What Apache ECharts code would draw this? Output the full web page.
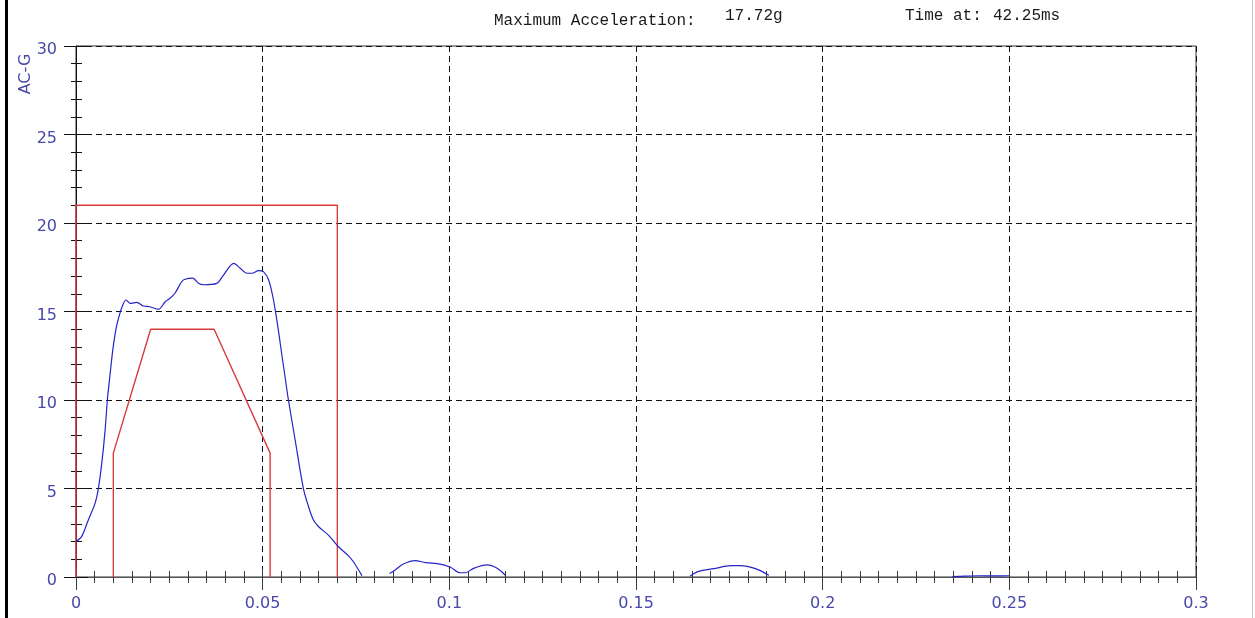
<!DOCTYPE html>
<html>
<head>
<meta charset="utf-8">
<script src="https://cdn.jsdelivr.net/npm/echarts/dist/echarts.min.js"></script>
<style>
  html, body { margin: 0; padding: 0; background: #fff; }
  #chart { width: 1255px; height: 618px; }
</style>
</head>
<body>
<div id="chart"></div>
<script>
// Axis ticks (time in seconds, acceleration in g)
const xTickValues = [0, 0.05, 0.1, 0.15, 0.2, 0.25, 0.3];
const xTickLabels = ['0', '0.05', '0.1', '0.15', '0.2', '0.25', '0.3'];
const yTickValues = [0, 5, 10, 15, 20, 25, 30];
const yTickLabels = ['0', '5', '10', '15', '20', '25', '30'];

// Tolerance envelope: upper limit box and lower limit trapezoid
const upperLimitTime  = [0, 0, 0.07, 0.07];
const upperLimitAccel = [0, 21, 21, 0];
const lowerLimitTime  = [0.01, 0.01, 0.02, 0.037, 0.052, 0.052];
const lowerLimitAccel = [0, 7, 14, 14, 7, 0];

// Measured shock pulse (null = below zero / not drawn)
const pulseTime = [
  0, 0.0015, 0.0033, 0.0051, 0.006, 0.0069, 0.0078, 0.0084, 0.0091, 0.0099,
  0.0108, 0.0117, 0.0125, 0.0134, 0.0145, 0.0163, 0.018, 0.0198, 0.0221, 0.0239,
  0.0252, 0.0265, 0.0283, 0.0292, 0.0313, 0.0328, 0.0341, 0.0377, 0.0395, 0.04225,
  0.044, 0.0458, 0.0471, 0.0489, 0.0502, 0.0516, 0.0529, 0.0542, 0.0551, 0.056,
  0.0569, 0.0587, 0.0609, 0.0623, 0.0636, 0.065, 0.0676, 0.0703, 0.073, 0.0743,
  0.0766,
  0.08,
  0.084, 0.0855, 0.0877, 0.0909, 0.0936, 0.0976, 0.1003, 0.1029, 0.1043, 0.1065,
  0.1101, 0.1128, 0.115,
  0.14,
  0.1645, 0.1668, 0.1708, 0.1754, 0.1779, 0.182, 0.1856,
  0.21,
  0.2348, 0.238, 0.242, 0.246, 0.25
];
const pulseAccel = [
  2.0, 2.28, 3.22, 4.16, 5.01, 6.42, 8.3, 10.0, 11.4, 12.9,
  14.1, 14.85, 15.35, 15.65, 15.46, 15.52, 15.31, 15.27, 15.12, 15.55,
  15.75, 16.03, 16.68, 16.82, 16.88, 16.59, 16.51, 16.59, 17.06, 17.72,
  17.44, 17.16, 17.16, 17.31, 17.25, 16.78, 15.65, 13.95, 12.6, 11.3,
  10.0, 7.74, 5.01, 3.97, 3.22, 2.84, 2.37, 1.71, 1.19, 0.86,
  0.08,
  null,
  0.2, 0.4, 0.73, 0.92, 0.81, 0.73, 0.55, 0.24, 0.24, 0.49,
  0.68, 0.49, 0.1,
  null,
  0.06, 0.32, 0.47, 0.64, 0.64, 0.47, 0.1,
  null,
  0.02, 0.05, 0.07, 0.06, 0.07
];

const toPairs = (xs, ys) => xs.map((x, i) => [x, ys[i] === null ? '-' : ys[i]]);

// Peak value and its time, shown in the header
let peakIdx = 0;
pulseAccel.forEach((v, i) => { if (v !== null && v > pulseAccel[peakIdx]) peakIdx = i; });
const peakText = pulseAccel[peakIdx].toFixed(2) + 'g';
const peakTimeText = (pulseTime[peakIdx] * 1000).toFixed(2) + 'ms';

const labelFor = (values, labels) => v => {
  const i = values.findIndex(t => Math.abs(t - v) < 1e-9);
  return i >= 0 ? labels[i] : '';
};

const LABEL_COLOR = '#4848a8';
const TICK_COLOR = '#3a3a3a';
const GRID_DASH = { color: '#111', width: 1, type: [6, 4] };

const chart = echarts.init(document.getElementById('chart'), null, { renderer: 'canvas' });
chart.setOption({
  animation: false,
  backgroundColor: '#fff',
  grid: {
    left: 76, right: 59, top: 46, bottom: 41,
    show: true, borderColor: '#333', borderWidth: 1, backgroundColor: 'transparent'
  },
  xAxis: [
    {
      type: 'value', min: 0, max: 0.3, interval: 0.05, position: 'bottom',
      axisLine: { onZero: false, lineStyle: { color: '#555', width: 1 } },
      axisTick: { show: true, inside: false, length: 13, lineStyle: { color: TICK_COLOR } },
      minorTick: { show: true, splitNumber: 10, length: 6, lineStyle: { color: TICK_COLOR } },
      axisLabel: {
        margin: 19, color: LABEL_COLOR, fontFamily: 'DejaVu Sans', fontSize: 16,
        formatter: labelFor(xTickValues, xTickLabels)
      },
      splitLine: { show: true, lineStyle: GRID_DASH },
      minorSplitLine: { show: false }
    },
    {
      type: 'value', min: 0, max: 0.3, interval: 0.05, position: 'bottom',
      axisLine: { show: false, onZero: false },
      axisTick: { show: true, inside: true, length: 8, lineStyle: { color: TICK_COLOR } },
      minorTick: { show: true, splitNumber: 10, length: 6, lineStyle: { color: TICK_COLOR } },
      axisLabel: { show: false },
      splitLine: { show: false }
    }
  ],
  yAxis: [
    {
      type: 'value', min: 0, max: 30, interval: 5, position: 'left',
      axisLine: { show: true, onZero: false, lineStyle: { color: '#111', width: 1 } },
      axisTick: { show: true, inside: false, length: 12, lineStyle: { color: '#111' } },
      minorTick: { show: true, splitNumber: 5, length: 5, lineStyle: { color: '#111' } },
      axisLabel: {
        margin: 19, color: LABEL_COLOR, fontFamily: 'DejaVu Sans', fontSize: 16,
        verticalAlign: 'top', lineHeight: 8,
        formatter: labelFor(yTickValues, yTickLabels)
      },
      splitLine: { show: true, lineStyle: GRID_DASH },
      minorSplitLine: { show: false }
    },
    {
      type: 'value', min: 0, max: 30, interval: 5, position: 'left',
      axisLine: { show: false, onZero: false },
      axisTick: { show: true, inside: true, length: 12, lineStyle: { color: '#111' } },
      minorTick: { show: true, splitNumber: 5, length: 6, lineStyle: { color: '#111' } },
      axisLabel: { show: false },
      splitLine: { show: false }
    }
  ],
  series: [
    {
      name: 'Upper limit', type: 'line', xAxisIndex: 0, yAxisIndex: 0,
      data: toPairs(upperLimitTime, upperLimitAccel),
      showSymbol: false, symbol: 'none', smooth: false,
      lineStyle: { color: '#d63c3c', width: 1.4 }, z: 3
    },
    {
      name: 'Lower limit', type: 'line', xAxisIndex: 0, yAxisIndex: 0,
      data: toPairs(lowerLimitTime, lowerLimitAccel),
      showSymbol: false, symbol: 'none', smooth: false,
      lineStyle: { color: '#d63c3c', width: 1.4 }, z: 3
    },
    {
      name: 'AC-G', type: 'line', xAxisIndex: 0, yAxisIndex: 0,
      data: toPairs(pulseTime, pulseAccel),
      showSymbol: false, symbol: 'none', smooth: 0.3,
      connectNulls: false,
      lineStyle: { color: '#2424c8', width: 1.2 }, z: 4
    }
  ],
  graphic: [
    { type: 'rect', shape: { x: 5, y: 0, width: 3, height: 618 }, style: { fill: '#000' }, silent: true },
    { type: 'line', shape: { x1: 1252.5, y1: 0, x2: 1252.5, y2: 618 }, style: { stroke: '#c8c8c8', lineWidth: 1 }, silent: true },
    { type: 'text', x: 494, y: 21, style: { text: 'Maximum Acceleration:', font: '16px "Liberation Mono"', fill: '#1a1a1a', align: 'left', verticalAlign: 'middle' } },
    { type: 'text', x: 725, y: 16, style: { text: peakText, font: '16px "Liberation Mono"', fill: '#1a1a1a', align: 'left', verticalAlign: 'middle' } },
    { type: 'text', x: 905, y: 16, style: { text: 'Time at:', font: '16px "Liberation Mono"', fill: '#1a1a1a', align: 'left', verticalAlign: 'middle' } },
    { type: 'text', x: 993, y: 16, style: { text: peakTimeText, font: '16px "Liberation Mono"', fill: '#1a1a1a', align: 'left', verticalAlign: 'middle' } },
    { type: 'text', x: 26, y: 74, rotation: Math.PI / 2, style: { text: 'AC-G', font: '16px "DejaVu Sans"', fill: LABEL_COLOR, align: 'center', verticalAlign: 'middle' } }
  ]
});
</script>
</body>
</html>
